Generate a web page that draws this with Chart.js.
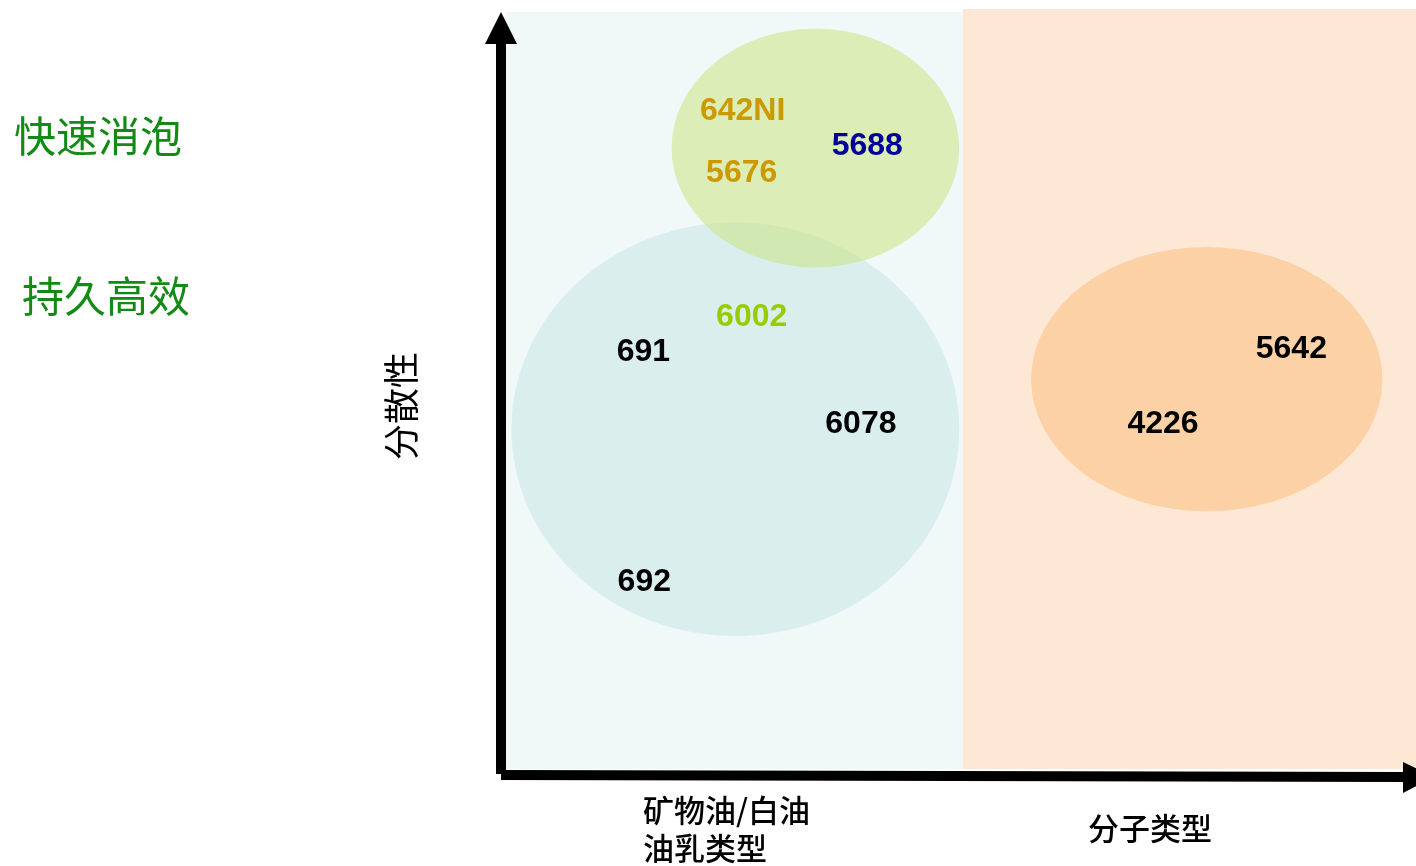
<!DOCTYPE html>
<html>
<head>
<meta charset="utf-8">
<script src="https://cdn.jsdelivr.net/npm/chart.js@4.4.0/dist/chart.umd.min.js"></script>
<style>
  html, body { margin: 0; padding: 0; background: #fff; }
  #wrap { width: 1416px; height: 866px; }
</style>
</head>
<body>
<div id="wrap"><canvas id="chart"></canvas></div>
<script>
// product labels (positions on the map, 0-100 both ways)
const productNames = ['642NI', '5676', '5688', '6002', '691', '6078', '692', '5642', '4226'];
const productX = [26.0, 25.9, 39.7, 27.0, 15.1, 39.0, 15.2, 86.3, 72.2];
const productY = [86.6, 78.4, 82.0, 59.5, 54.9, 45.4, 24.6, 55.3, 45.4];
const productColors = ['#cc9900', '#cc9900', '#000099', '#99cc00', '#000', '#000', '#000', '#000', '#000'];

// groups drawn as ellipses
const groupNames = ['油乳类型', '快速消泡', '分子类型'];
const groupCx = [25.2, 34.0, 77.0];
const groupCy = [44.7, 81.7, 51.3];
const groupRx = [24.6, 15.8, 19.3];
const groupRy = [27.2, 15.7, 17.4];
const groupColors = ['rgba(190,226,226,0.45)', 'rgba(200,226,120,0.5)', 'rgba(252,190,128,0.55)'];

// two background zones along x
const zoneFrom = [0, 50.2];
const zoneTo = [50.2, 100];
const zoneTop = [99.6, 100];
const zoneColors = ['#f0f8f8', '#fde8d6'];

const xCategories = [['矿物油/白油', '油乳类型'], ['分子类型']];
const yTitle = '分散性';
const sideNotes = ['快速消泡', '持久高效'];

const cjk = "'Noto Sans CJK SC', sans-serif";

//zonas y elipses debajo de los puntos
const mapShapes = {
    id: 'mapShapes',
    beforeDatasetsDraw(chart) {
        const { ctx, scales: { x, y } } = chart;
        ctx.save();
        for (let i = 0; i < zoneFrom.length; i++) {
            const l = x.getPixelForValue(zoneFrom[i]);
            const r = x.getPixelForValue(zoneTo[i]);
            const t = y.getPixelForValue(zoneTop[i]);
            const b = y.getPixelForValue(0);
            ctx.fillStyle = zoneColors[i];
            ctx.fillRect(l, t, r - l, b - t);
        }
        for (let i = 0; i < groupCx.length; i++) {
            const cx = x.getPixelForValue(groupCx[i]);
            const cy = y.getPixelForValue(groupCy[i]);
            const rx = Math.abs(x.getPixelForValue(groupCx[i] + groupRx[i]) - cx);
            const ry = Math.abs(y.getPixelForValue(groupCy[i] + groupRy[i]) - cy);
            ctx.beginPath();
            ctx.ellipse(cx, cy, rx, ry, 0, 0, Math.PI * 2);
            ctx.fillStyle = groupColors[i];
            ctx.fill();
        }
        ctx.restore();
    }
}

// texto de cada producto + flechas de ejes + textos de fuera
const mapText = {
    id: 'mapText',
    afterDatasetsDraw(chart) {
        const { ctx, chartArea: { left, right, top, bottom }, scales: { x, y } } = chart;
        const meta = chart.getDatasetMeta(0);
        ctx.save();
        ctx.textAlign = 'center';
        ctx.textBaseline = 'middle';
        ctx.font = "bold 32px 'Liberation Sans', Arial, sans-serif";
        meta.data.forEach((pt, i) => {
            ctx.fillStyle = productColors[i];
            ctx.fillText(productNames[i], pt.x, pt.y);
        });

        // y axis arrow
        ctx.fillStyle = '#000';
        ctx.fillRect(left - 10, 40, 10, bottom + 5 - 40);
        ctx.beginPath();
        ctx.moveTo(left - 5, 12);
        ctx.lineTo(left - 21, 44);
        ctx.lineTo(left + 11, 44);
        ctx.closePath();
        ctx.fill();
        // x axis arrow
        ctx.beginPath();
        ctx.moveTo(left - 5, bottom + 1);
        ctx.lineTo(1404, bottom + 3);
        ctx.lineTo(1404, bottom + 13);
        ctx.lineTo(left - 5, bottom + 11);
        ctx.closePath();
        ctx.fill();
        ctx.beginPath();
        ctx.moveTo(1403, bottom - 7);
        ctx.lineTo(1434, bottom + 8);
        ctx.lineTo(1403, bottom + 24);
        ctx.closePath();
        ctx.fill();

        // x category labels
        ctx.fillStyle = '#000';
        ctx.font = '500 31px ' + cjk;
        ctx.textAlign = 'left';
        ctx.fillText(xCategories[0][0], 643, 810);
        ctx.fillText(xCategories[0][1], 643, 848);
        ctx.fillText(xCategories[1][0], 1088, 828);

        // y title
        ctx.save();
        ctx.translate(401, 406);
        ctx.rotate(-Math.PI / 2);
        ctx.textAlign = 'center';
        ctx.font = '36px ' + cjk;
        ctx.fillText(yTitle, 0, 0);
        ctx.restore();

        // notas verdes a la izquierda
        ctx.fillStyle = '#138a13';
        ctx.font = '42px ' + cjk;
        ctx.textAlign = 'left';
        ctx.fillText(sideNotes[0], 14, 136);
        ctx.fillText(sideNotes[1], 22, 296);
        ctx.restore();
    }
}

const data = {
    datasets: [{
        label: 'productos',
        data: productNames.map((n, i) => ({ x: productX[i], y: productY[i] })),
        pointRadius: 0,
        showLine: false
    }]
}

const config = {
    type: 'scatter',
    data,
    options: {
        responsive: false,
        animation: false,
        events: [],
        layout: {
            padding: { left: 506, right: 0, top: 9, bottom: 97 }
        },
        scales: {
            x: { type: 'linear', min: 0, max: 100, display: false },
            y: { type: 'linear', min: 0, max: 100, display: false }
        },
        plugins: {
            legend: { display: false },
            tooltip: { enabled: false }
        }
    },
    plugins: [mapShapes, mapText],
}

var canvas = document.getElementById('chart');
canvas.width = 1416;
canvas.height = 866;
var myChart = new Chart(canvas, config);
</script>
</body>
</html>
